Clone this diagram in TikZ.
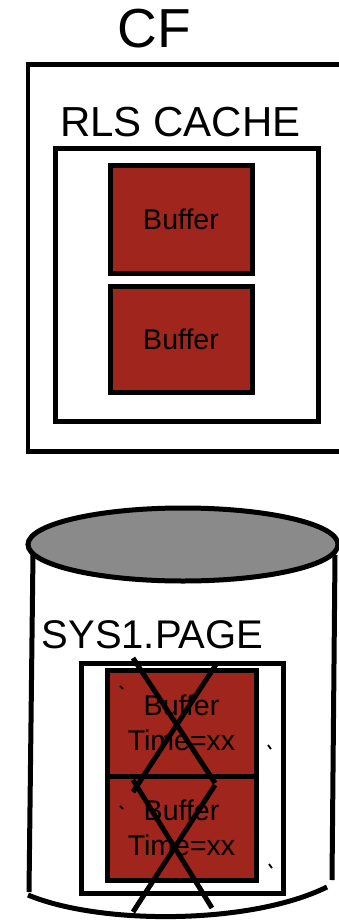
\documentclass[tikz,border=0pt]{standalone}
\usepackage{fontspec}
\setmainfont{Liberation Sans}
\usetikzlibrary{shapes.geometric}
\definecolor{bufred}{RGB}{160,37,28}
\definecolor{diskgray}{RGB}{138,138,138}
\begin{document}
\begin{tikzpicture}[x=1pt,y=-1pt,
  box/.style={draw=black,line width=4.5pt,fill=white},
  bufbox/.style={draw=black,line width=5pt,fill=bufred,inner sep=0pt,
    minimum width=142pt,minimum height=107pt,
    font=\fontsize{28.5}{30}\selectfont},
  diskbuf/.style={draw=black,line width=5pt,fill=bufred,inner sep=0pt,
    minimum width=149pt,minimum height=105pt,align=center,
    font=\fontsize{28.5}{35}\selectfont},
  cross/.style={line width=5pt,line cap=butt},
  side/.style={line width=5pt},
  tick/.style={line width=1.8pt}]
\useasboundingbox (0,0) rectangle (339,920);
\clip (0,0) rectangle (339,920);
\fill[white] (0,0) rectangle (339,920);

% CF
\node[anchor=base,inner sep=0pt,font=\fontsize{55}{60}\selectfont] (cf) at (154,48) {CF};
\node[box,anchor=north west,inner sep=0pt,minimum width=330pt,minimum height=386.5pt] (cfbox) at (25.5,62.5) {};
\node[anchor=base,inner sep=0pt,font=\fontsize{42}{46}\selectfont] (rls) at (180.5,137) {RLS CACHE};
\node[box,anchor=north west,inner sep=0pt,minimum width=263pt,minimum height=272.5pt] (cache) at (53,146.5) {};
\node[bufbox] (b1) at (181,219.5) {Buffer};
\node[bufbox,minimum height=106pt] (b2) at (181,339) {Buffer};

% Disk
\coordinate (lt) at (33,553);
\coordinate (lb) at (29,892);
\coordinate (rt) at (335,555);
\coordinate (rb) at (332,880);
\coordinate (al) at (28,895);
\coordinate (ar) at (327,887);
\draw[side] (lt) -- (lb);
\draw[side] (rt) -- (rb);
\draw[side] (al) .. controls (100,925) and (250,925) .. (ar);
\node[draw=black,line width=5pt,fill=diskgray,ellipse,inner sep=0pt,
  minimum width=310pt,minimum height=73pt] (top) at (183,544.5) {};

\node[anchor=base,inner sep=0pt,font=\fontsize{40}{44}\selectfont] (sys) at (152.5,648) {SYS1.PAGE};
\node[box,line width=5pt,anchor=north west,inner sep=0pt,minimum width=202pt,minimum height=230pt] (page) at (79,661) {};
\node[diskbuf,minimum height=106pt] (b3) at (181.5,723) {Buffer\\Time=xx};
\node[diskbuf,minimum height=104pt] (b4) at (181.5,828) {Buffer\\Time=xx};

% crosses
\coordinate (x1a) at (133,658);
\coordinate (x1b) at (215,783);
\coordinate (x1c) at (217,663);
\coordinate (x1d) at (133,792);
\coordinate (x2a) at (133,780);
\coordinate (x2b) at (212,908);
\coordinate (x2c) at (215,785);
\coordinate (x2d) at (133,912);
\draw[cross] (x1a) -- (x1b);
\draw[cross] (x1c) -- (x1d);
\draw[cross] (x2a) -- (x2b);
\draw[cross] (x2c) -- (x2d);

% stray ticks
\coordinate (t1a) at (120,686); \coordinate (t1b) at (123,689);
\coordinate (t2a) at (268,745); \coordinate (t2b) at (271,749);
\coordinate (t3a) at (120,806); \coordinate (t3b) at (123,809);
\coordinate (t4a) at (269,864); \coordinate (t4b) at (272,868);
\draw[tick] (t1a) -- (t1b);
\draw[tick] (t2a) -- (t2b);
\draw[tick] (t3a) -- (t3b);
\draw[tick] (t4a) -- (t4b);
\end{tikzpicture}
\end{document}
